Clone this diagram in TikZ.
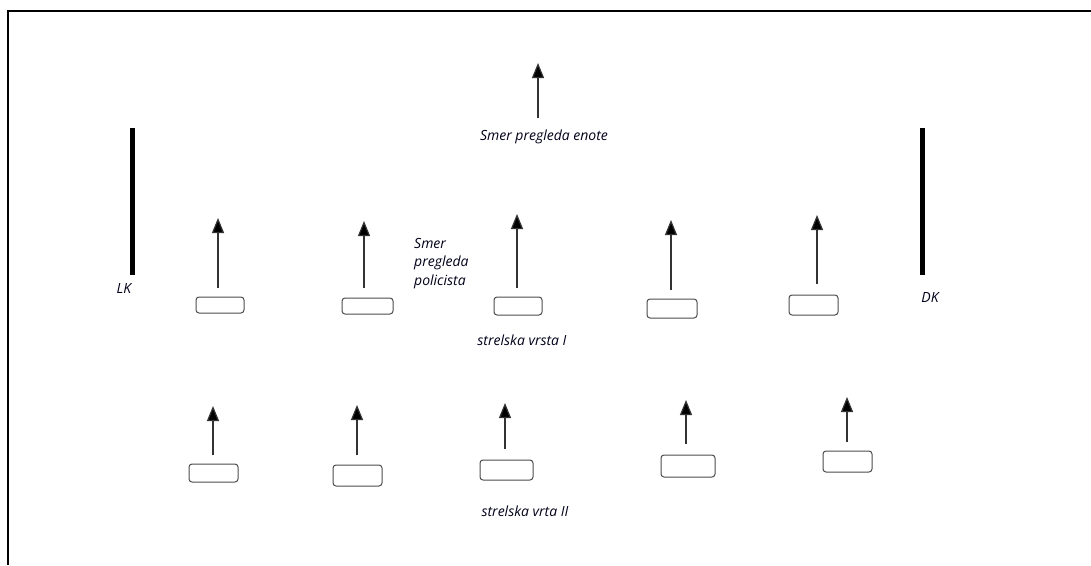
\documentclass[tikz,border=0pt]{standalone}
\usepackage{fontspec}
\setmainfont{Open Sans}
\usetikzlibrary{arrows.meta}
\begin{document}
\begin{tikzpicture}[x=1pt,y=-1pt,
  lbl/.style={font=\fontsize{14}{18.5}\selectfont\itshape, text=black!90!blue, inner sep=0pt},
  arr/.style={draw=black!80, line width=1.2pt, -{Triangle[length=15pt,width=12pt,fill=black]}},
  unit/.style={draw=black!70, line width=1pt, rounded corners=3pt, inner sep=0pt},
  bar/.style={line width=5pt}]
\useasboundingbox (0,0) rectangle (1091,565);
\draw[line width=2.5pt] (1091,11) -- (8,11) -- (8,565);
% top direction
\coordinate (t0) at (538,118);
\coordinate (t1) at (538,63);
\draw[arr] (t0) -- (t1);
\node[lbl] (tl) at (544,137) {Smer pregleda enote};
% side bars
\coordinate (lk0) at (132,128); \coordinate (lk1) at (132,275);
\draw[bar] (lk0) -- (lk1);
\node[lbl] (lk) at (124,288) {LK};
\coordinate (dk0) at (922,128); \coordinate (dk1) at (922,275);
\draw[bar] (dk0) -- (dk1);
\node[lbl] (dk) at (930,297) {DK};
% row I units
\foreach \n/\xa/\xb/\ya/\yb in {1/196/244/297/313, 2/342/393/298/314, 3/494/542/297/315, 4/647/697/299/318, 5/789/838/295/315}{
  \node[unit, minimum width={\xb-\xa}, minimum height={\yb-\ya}] (r1b\n) at ({(\xa+\xb)/2},{(\ya+\yb)/2}) {};
}
\foreach \n/\x/\ya/\yb in {1/218/288/218, 2/364/288/221, 3/517/288/214, 4/671/290/220, 5/817/284/215}{
  \coordinate (r1s\n) at (\x,\ya);
  \coordinate (r1e\n) at (\x,\yb);
  \draw[arr] (r1s\n) -- (r1e\n);
}
\node[lbl, align=left, anchor=north west] (pol) at (414,238) {Smer\\pregleda\\policista};
\node[lbl] (v1) at (522,340) {strelska vrsta I};
% row II units
\foreach \n/\xa/\xb/\ya/\yb in {1/189/238/464/482, 2/333/382/465/486, 3/480/533/460/480, 4/661/715/455/477, 5/823/872/451/472}{
  \node[unit, minimum width={\xb-\xa}, minimum height={\yb-\ya}] (r2b\n) at ({(\xa+\xb)/2},{(\ya+\yb)/2}) {};
}
\foreach \n/\x/\ya/\yb in {1/213/455/406, 2/357/455/405, 3/505/449/403, 4/686/444/400, 5/847/442/397}{
  \coordinate (r2s\n) at (\x,\ya);
  \coordinate (r2e\n) at (\x,\yb);
  \draw[arr] (r2s\n) -- (r2e\n);
}
\node[lbl] (v2) at (525,511) {strelska vrta II};
\end{tikzpicture}
\end{document}
